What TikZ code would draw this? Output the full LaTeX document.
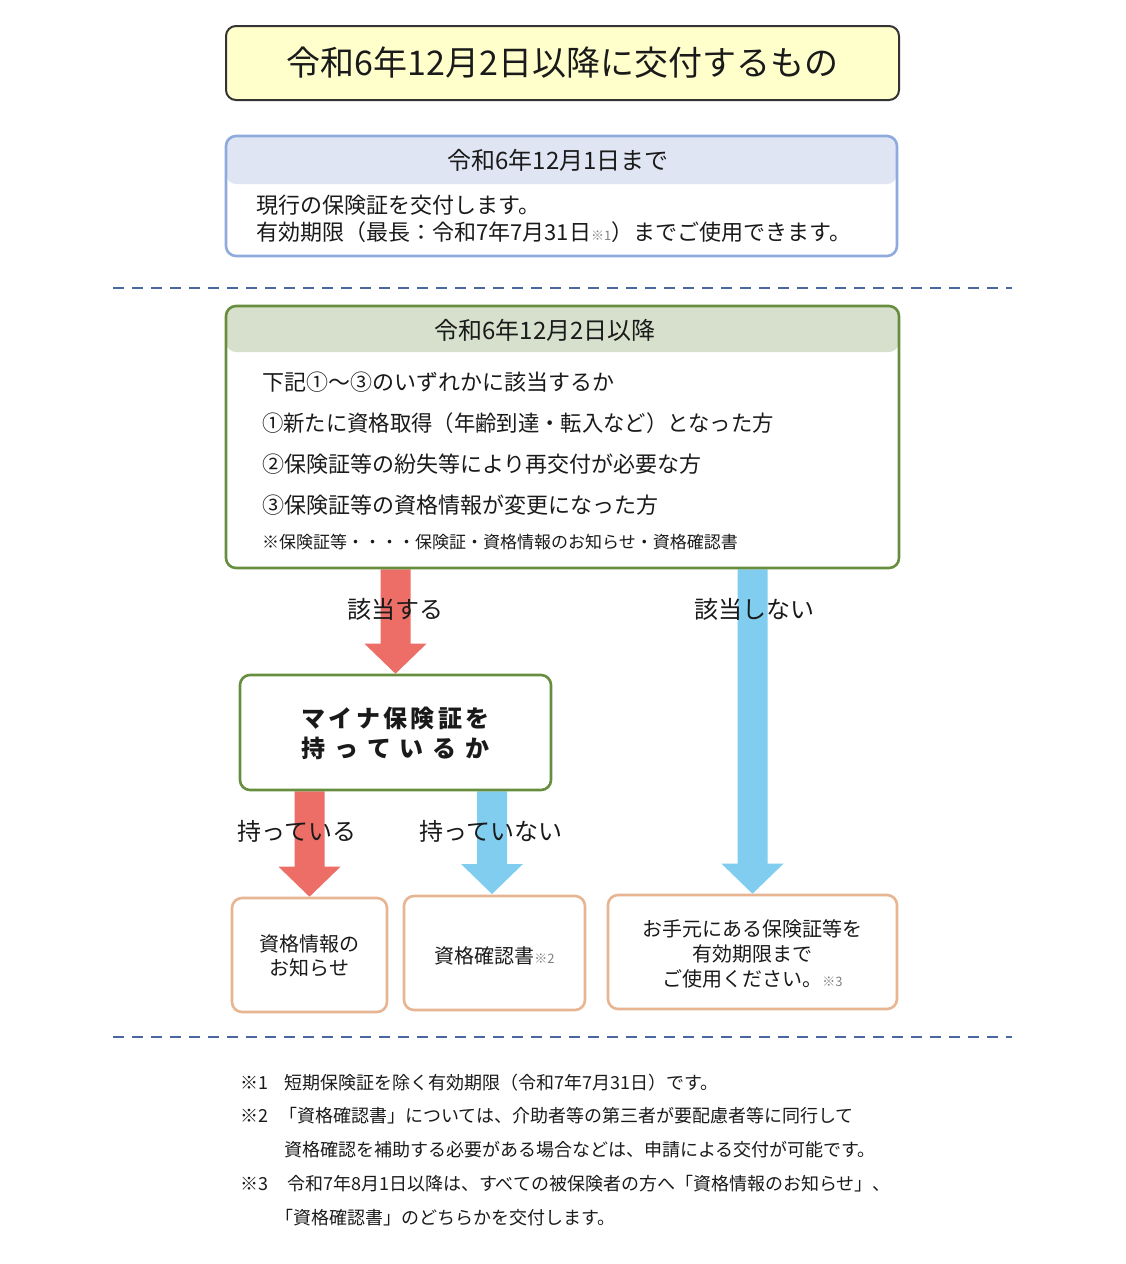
\documentclass[tikz,border=0pt]{standalone}
\usepackage{fontspec}
\setmainfont{Noto Sans CJK JP}
\usetikzlibrary{calc}
\definecolor{titlefill}{HTML}{FFFFCC}
\definecolor{titledraw}{HTML}{333333}
\definecolor{blueb}{HTML}{8FAADC}
\definecolor{bluehdr}{HTML}{DFE5F2}
\definecolor{greenb}{HTML}{668E3E}
\definecolor{greenhdr}{HTML}{D7E0CC}
\definecolor{dashc}{HTML}{4A67A1}
\definecolor{redA}{HTML}{EC6E66}
\definecolor{blueA}{HTML}{80CDF0}
\definecolor{orangeb}{HTML}{E8B593}
\definecolor{txt}{HTML}{1A1A1A}
\pgfdeclarelayer{back}
\pgfdeclarelayer{arrows}
\pgfsetlayers{back,arrows,main}
\newcommand\blockarr[3]{%
  \fill[#3] let \p1=(#1), \p2=(#2) in
    (\x1-15pt,\y1) -- (\x1+15pt,\y1) -- (\x1+15pt,\y2+30pt) -- (\x1+31pt,\y2+30pt)
    -- (\x1,\y2) -- (\x1-31pt,\y2+30pt) -- (\x1-15pt,\y2+30pt) -- cycle;}
\newcommand\smallmark[1]{{\fontsize{13pt}{13pt}\selectfont\color{gray}#1}}
\begin{document}
\begin{tikzpicture}[x=1pt,y=-1pt,
  every node/.style={text=txt, inner sep=0pt},
  box/.style={rectangle, rounded corners=10pt, line width=2.6pt, fill=white},
  hdr/.style 2 args={path picture={\fill[#1] (path picture bounding box.north west) rectangle ([yshift=-#2]path picture bounding box.north east);}},
  f34/.style={font=\fontsize{34pt}{40pt}\selectfont},
  f24/.style={font=\fontsize{24pt}{30pt}\selectfont},
  f22/.style={font=\fontsize{22pt}{27pt}\selectfont},
  f20/.style={font=\fontsize{20pt}{25pt}\selectfont},
  f18/.style={font=\fontsize{18pt}{22pt}\selectfont},
  f17/.style={font=\fontsize{17pt}{20pt}\selectfont},
  dashline/.style={dashc, line width=2.5pt, dash pattern=on 11pt off 8pt}
]
\begin{pgfonlayer}{back}
\fill[white] (0,0) rectangle (1125,1264);
\end{pgfonlayer}
\useasboundingbox (0,0) rectangle (1125,1264);

% title
\node[box, fill=titlefill, draw=titledraw, line width=2pt, minimum width=673pt, minimum height=74pt] (t) at (562.5,63) {};
\node[f34] (tt) at (562.5,63) {令和6年12月2日以降に交付するもの};

% box 2
\node[box, draw=blueb, hdr={bluehdr}{48pt}, minimum width=671pt, minimum height=120pt] (b2) at (561.5,196) {};
\node[f24] (b2h) at (558,160) {令和6年12月1日まで};
\node[f22, anchor=west] (b2l1) at (256,205) {現行の保険証を交付します。};
\node[f22, anchor=west] (b2l2) at (256,232) {有効期限（最長：令和7年7月31日\smallmark{※1}）までご使用できます。};

% dashed separators
\draw[dashline] (113,288) -- (1012,288);
\draw[dashline] (113,1037) -- (1012,1037);

% box 3
\node[box, draw=greenb, hdr={greenhdr}{46pt}, minimum width=673pt, minimum height=262pt] (b3) at (562.5,437) {};
\node[f24] (b3h) at (545,330) {令和6年12月2日以降};
\node[f22, anchor=west] (b3l1) at (262,382) {下記①～③のいずれかに該当するか};
\node[f22, anchor=west] (b3l2) at (262,423) {\addfontfeature{FakeStretch=0.97}①新たに資格取得（年齢到達・転入など）となった方};
\node[f22, anchor=west] (b3l3) at (262,464) {②保険証等の紛失等により再交付が必要な方};
\node[f22, anchor=west] (b3l4) at (262,505) {③保険証等の資格情報が変更になった方};
\node[f17, anchor=west] (b3l5) at (262,542) {※保険証等・・・・保険証・資格情報のお知らせ・資格確認書};

% box 4
\node[box, draw=greenb, minimum width=311pt, minimum height=115pt] (b4) at (395.5,732.5) {};
\node[font=\fontsize{24pt}{30pt}\selectfont\bfseries, align=center] (b4t) at (395.5,733)
  {\makebox[188pt][s]{マ\hfill イ\hfill ナ\hfill 保\hfill 険\hfill 証\hfill を}\\
   \makebox[188pt][s]{持\hfill っ\hfill て\hfill い\hfill る\hfill か}};

% result boxes
\node[box, draw=orangeb, minimum width=155pt, minimum height=114pt] (ra) at (309.5,955) {};
\node[f20, align=center, font=\fontsize{20pt}{24pt}\selectfont] (rat) at (309.5,956) {資格情報の\\お知らせ};
\node[box, draw=orangeb, minimum width=181pt, minimum height=114pt] (rb) at (494.5,953) {};
\node[f20] (rbt) at (494.5,956) {資格確認書\smallmark{※2}};
\node[box, draw=orangeb, minimum width=289pt, minimum height=114pt] (rc) at (752.5,952) {};
\node[f20, align=center] (rct) at (752.5,954) {お手元にある保険証等を\\有効期限まで\\ご使用ください。\smallmark{※3}};

% arrows
\begin{pgfonlayer}{arrows}
\blockarr{b3.south -| b4.north}{b4.north}{redA}
\blockarr{b3.south -| rc.north}{rc.north}{blueA}
\blockarr{b4.south -| ra.north}{ra.north}{redA}
\blockarr{b4.south -| 492,0}{492,894}{blueA}
\end{pgfonlayer}

% arrow labels
\node[f24] (l1) at (395,609) {該当する};
\node[f24] (l2) at (754,609) {該当しない};
\node[f24] (l3) at (297,831) {持っている};
\node[f24] (l4) at (491,831) {持っていない};

% footnotes
\node[f18, anchor=west] (m1) at (240,1083) {※1};
\node[f18, anchor=west] (n1) at (284,1083) {短期保険証を除く有効期限（令和7年7月31日）です。};
\node[f18, anchor=west] (m2) at (240,1116) {※2};
\node[f18, anchor=west] (n2) at (279,1116) {「資格確認書」については、介助者等の第三者が要配慮者等に同行して};
\node[f18, anchor=west] (n3) at (284,1150) {資格確認を補助する必要がある場合などは、申請による交付が可能です。};
\node[f18, anchor=west] (m3) at (240,1184) {※3};
\node[f18, anchor=west] (n4) at (287,1184) {令和7年8月1日以降は、すべての被保険者の方へ「資格情報のお知らせ」、};
\node[f18, anchor=west] (n5) at (275,1218) {「資格確認書」のどちらかを交付します。};
\end{tikzpicture}
\end{document}
